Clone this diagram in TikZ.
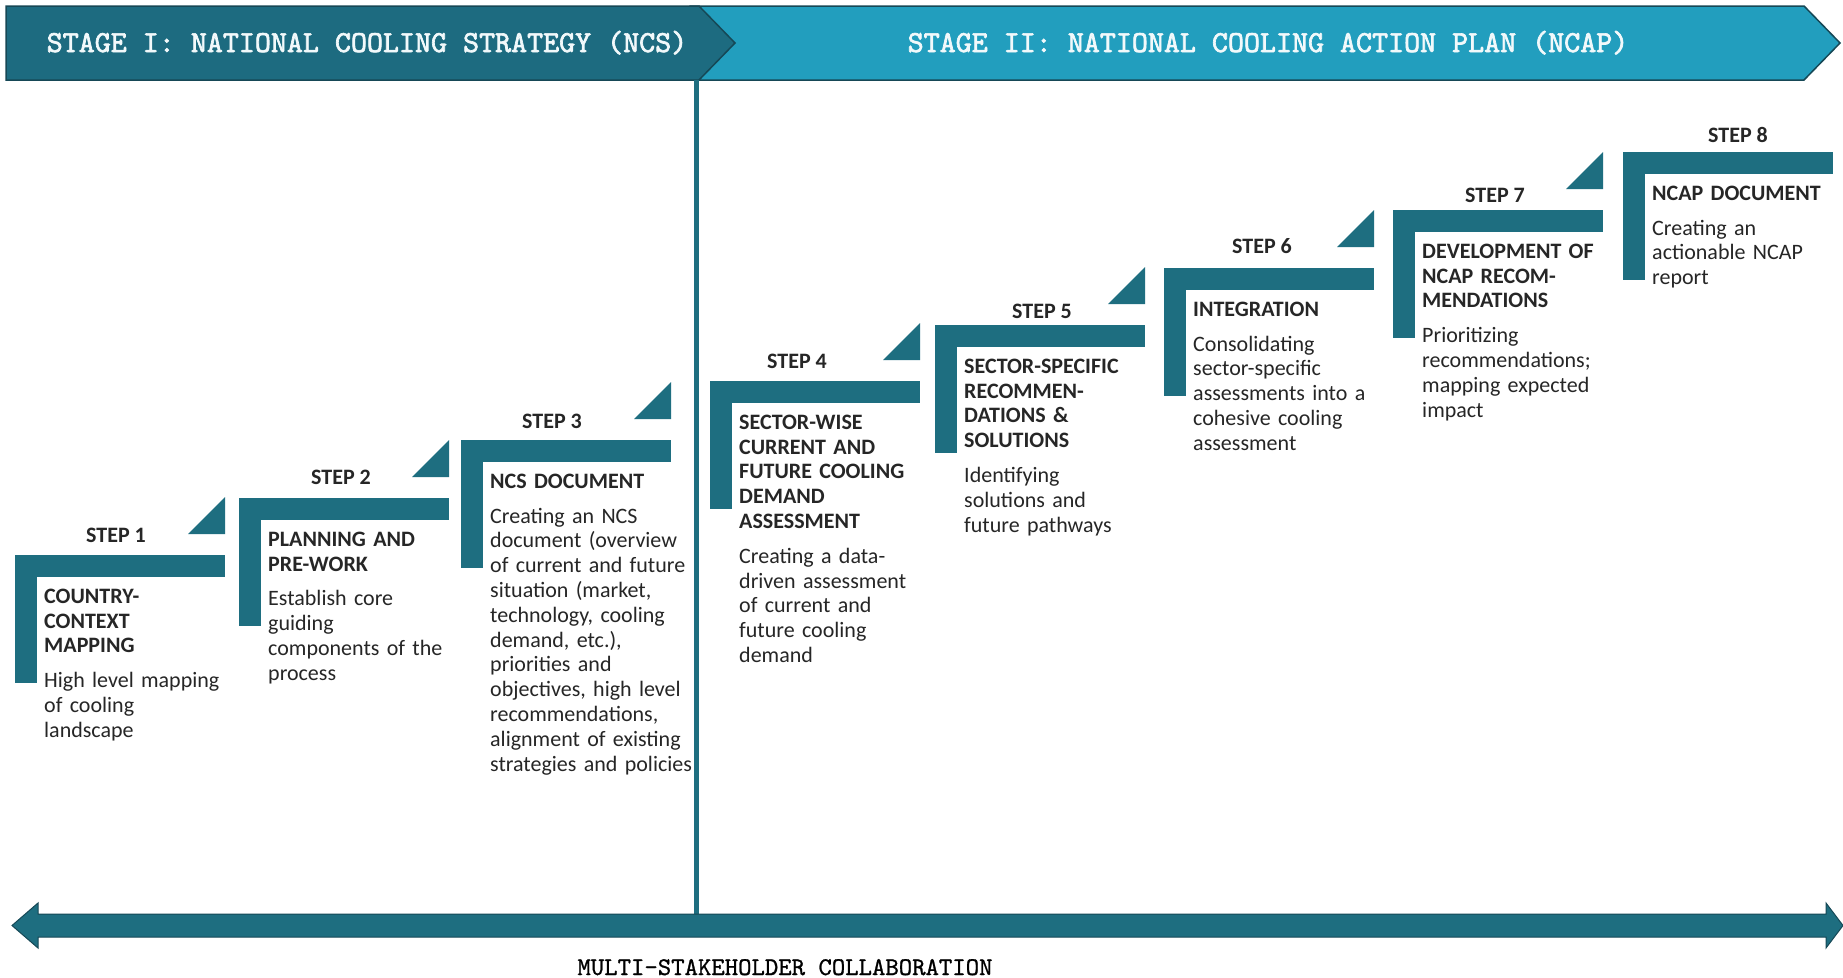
\documentclass[tikz,border=0pt]{standalone}
\usepackage{fontspec}
\setmainfont{Carlito}
\newfontfamily\hdrf{lmmono10-regular.otf}[FakeBold=2.2]
\newfontfamily\botf{lmmono10-regular.otf}[FakeBold=1]
\definecolor{barc}{RGB}{30,110,128}
\definecolor{stagea}{RGB}{29,107,128}
\definecolor{stageb}{RGB}{34,158,190}
\definecolor{edgec}{RGB}{22,72,86}
\definecolor{txtc}{RGB}{38,38,38}
\tikzset{
  steplabel/.style={font=\bfseries\fontsize{22}{24.8}\selectfont, text=txtc, inner sep=0pt, anchor=base},
  stepbody/.style={font=\fontsize{22}{24.8}\selectfont, text=txtc, inner sep=0pt, align=left, text width=260pt, anchor=north west},
  hdr/.style={font=\hdrf\fontsize{30.5}{34}\selectfont, text=white!94!stageb, anchor=base, inner sep=0pt},
  divider/.style={draw=barc, line width=5pt},
}
\newcommand\stepblk[7]{%
  \fill[barc] (#2,#3) rectangle (#2+210,#3+22);
  \fill[barc] (#2,#3) rectangle (#2+22,#3+128);
  \node[steplabel] (lab#1) at (#4) {STEP #1};
  \node[stepbody] (txt#1) at (#2+29,#3+30.64) {\strut\bfseries #5\\[10pt]\mdseries #6};
  #7
}
\newcommand\steptri[2]{%
  \fill[barc] (#1+173,#2-21) -- (#1+210,#2-21) -- (#1+210,#2-58) -- cycle;
}
\begin{document}
\begin{tikzpicture}[x=1pt,y=-1pt]
\useasboundingbox (0,0) rectangle (1843,977);
\fill[white] (0,0) rectangle (1843,977);
% header
\filldraw[fill=stageb, draw=edgec, line width=1.5pt] (690,6) -- (1804,6) -- (1840,43) -- (1804,80) -- (690,80) -- cycle;
\filldraw[fill=stagea, draw=edgec, line width=1.5pt] (6,6) -- (699,6) -- (735,43) -- (699,80) -- (6,80) -- cycle;
\node[hdr] (stage1) at (367,52) {STAGE I: NATIONAL COOLING STRATEGY (NCS)};
\node[hdr] (stage2) at (1268,52) {STAGE II: NATIONAL COOLING ACTION PLAN (NCAP)};
% divider
\coordinate (divtop) at (696,80);
\coordinate (divbot) at (696,916);
\draw[divider] (divtop) -- (divbot);
% bottom arrow
\filldraw[fill=barc, draw=edgec, line width=1pt]
  (12,925.5) -- (38,903) -- (38,914) -- (1826,914) -- (1826,903) -- (1843,925.5)
  -- (1826,948) -- (1826,937) -- (38,937) -- (38,948) -- cycle;
\node[font=\botf\fontsize{25.5}{28}\selectfont, text=black, anchor=base, inner sep=0pt] (collab) at (785,975) {MULTI-STAKEHOLDER COLLABORATION};
% steps
\stepblk{1}{15}{555}{116,542}{COUNTRY-\\CONTEXT\\MAPPING}{High level mapping\\of cooling\\landscape}{\steptri{15}{555}}
\stepblk{2}{239}{498}{341,484}{PLANNING AND\\PRE-WORK}{Establish core\\guiding\\components of the\\process}{\steptri{239}{498}}
\stepblk{3}{461}{440}{552,428}{NCS DOCUMENT}{Creating an NCS\\document (overview\\of current and future\\situation (market,\\technology, cooling\\demand, etc.),\\priorities and\\objectives, high level\\recommendations,\\alignment of existing\\strategies and policies}{\steptri{461}{440}}
\stepblk{4}{710}{381}{797,368}{SECTOR-WISE\\CURRENT AND\\FUTURE COOLING\\DEMAND\\ASSESSMENT}{Creating a data-\\driven assessment\\of current and\\future cooling\\demand}{\steptri{710}{381}}
\stepblk{5}{935}{325}{1042,318}{SECTOR-SPECIFIC\\RECOMMEN-\\DATIONS \&\\SOLUTIONS}{Identifying\\solutions and\\future pathways}{\steptri{935}{325}}
\stepblk{6}{1164}{268}{1262,253}{INTEGRATION}{Consolidating\\sector-specific\\assessments into a\\cohesive cooling\\assessment}{\steptri{1164}{268}}
\stepblk{7}{1393}{210}{1495,202}{DEVELOPMENT OF\\NCAP RECOM-\\MENDATIONS}{Prioritizing\\recommendations;\\mapping expected\\impact}{\steptri{1393}{210}}
\stepblk{8}{1623}{152}{1738,142}{NCAP DOCUMENT}{Creating an\\actionable NCAP\\report}{}
\end{tikzpicture}
\end{document}
